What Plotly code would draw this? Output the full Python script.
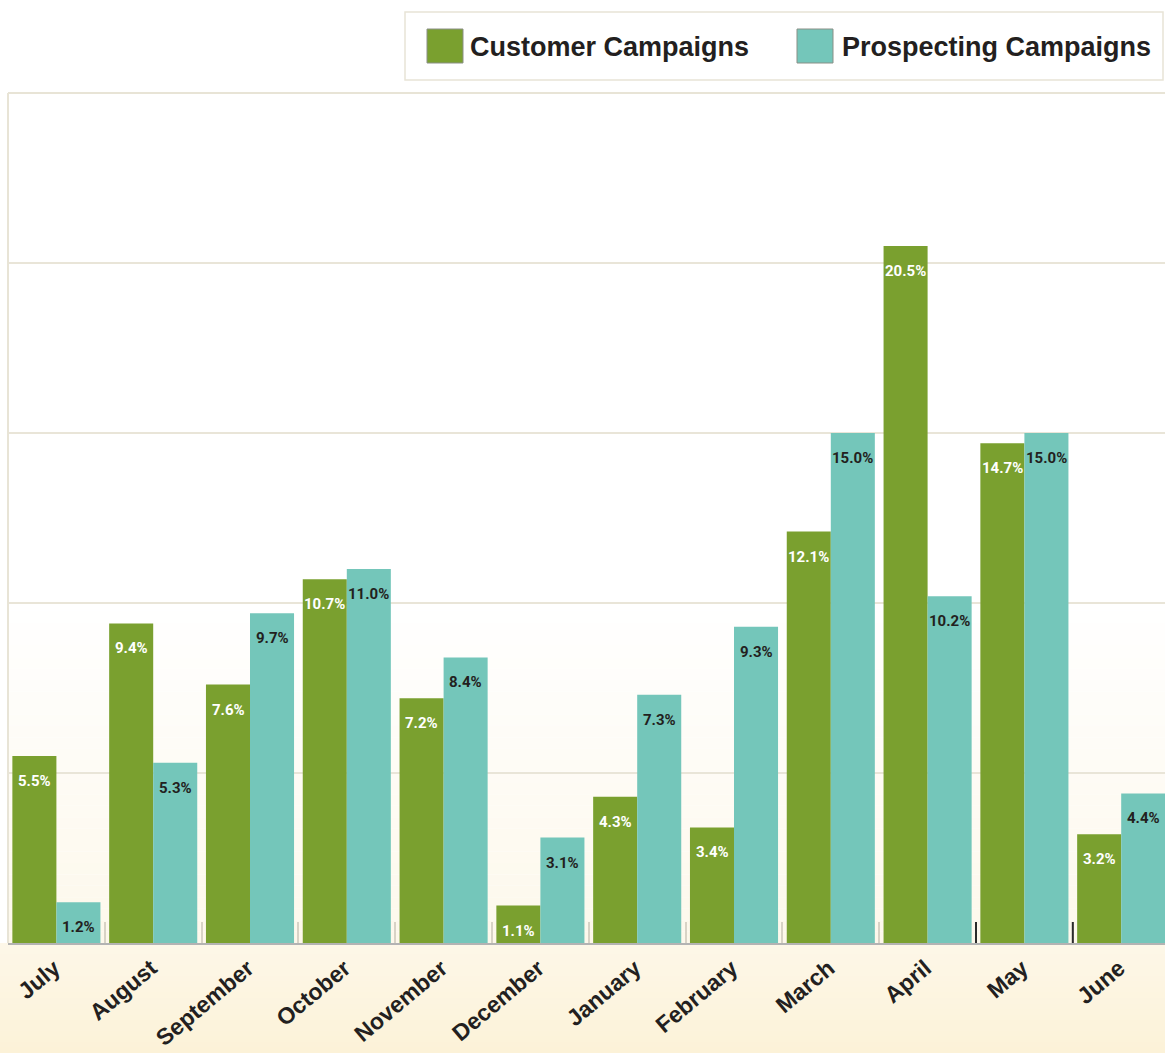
import plotly.graph_objects as go

# Monthly share of campaigns (%)
months = ["July", "August", "September", "October", "November", "December",
          "January", "February", "March", "April", "May", "June"]
customer = [5.5, 9.4, 7.6, 10.7, 7.2, 1.1, 4.3, 3.4, 12.1, 20.5, 14.7, 3.2]
prospecting = [1.2, 5.3, 9.7, 11.0, 8.4, 3.1, 7.3, 9.3, 15.0, 10.2, 15.0, 4.4]
series_names = ["Customer Campaigns", "Prospecting Campaigns"]

GREEN = "#7aa02f"
TEAL = "#74c6ba"
INK = "#231f20"
BEIGE = "#e8e4d6"

W, H = 1165, 1053
L, T, B = 8, 93, 110
PLOT_W = W - L
PLOT_H = H - T - B
CAT_PX = 96.8


def px_x(px):
    return (px - L) / PLOT_W


def px_y(py):
    return (H - B - py) / PLOT_H


fig = go.Figure()
fig.add_trace(go.Bar(x=months, y=customer, name=series_names[0],
                     marker=dict(color=GREEN, line=dict(width=0))))
fig.add_trace(go.Bar(x=months, y=prospecting, name=series_names[1],
                     marker=dict(color=TEAL, line=dict(width=0))))

shapes = []


def mix(c0, c1, t):
    return "rgb(%d,%d,%d)" % tuple(round(a + (b - a) * t) for a, b in zip(c0, c1))


# soft cream fade toward the bottom of the plot area
n = 30
top_px, bot_px = 600, H - B
for i in range(n):
    y0 = top_px + (bot_px - top_px) * i / n
    y1 = top_px + (bot_px - top_px) * (i + 1) / n
    shapes.append(dict(type="rect", xref="paper", yref="paper", layer="below",
                       x0=0, x1=1, y0=px_y(y1), y1=px_y(y0), line=dict(width=0),
                       fillcolor=mix((255, 255, 255), (253, 248, 235), (i + 0.5) / n)))
# cream band behind the month labels
n = 20
for i in range(n):
    y0 = (H - B) + B * i / n
    y1 = (H - B) + B * (i + 1) / n
    shapes.append(dict(type="rect", xref="paper", yref="paper", layer="below",
                       x0=px_x(0), x1=1, y0=px_y(y1 + 0.5), y1=px_y(y0), line=dict(width=0),
                       fillcolor=mix((253, 247, 232), (252, 242, 216), (i + 0.5) / n)))

# frame lines on top and left
shapes.append(dict(type="line", xref="paper", yref="paper", x0=0, x1=1, y0=1, y1=1,
                   line=dict(color=BEIGE, width=2)))
shapes.append(dict(type="line", xref="paper", yref="paper", x0=0, x1=0, y0=0, y1=1,
                   line=dict(color=BEIGE, width=2)))

# darker boundary ticks between April/May and May/June
for xb in (9.5, 10.5):
    shapes.append(dict(type="line", xref="x", yref="paper", x0=xb, x1=xb,
                       y0=0, y1=21 / PLOT_H, line=dict(color="#2b2b2b", width=2)))

# legend box with large colour swatches
shapes.append(dict(type="rect", xref="paper", yref="paper",
                   x0=px_x(405), x1=px_x(1163), y0=px_y(80), y1=px_y(12),
                   fillcolor="white", line=dict(color=BEIGE, width=1.5)))
annotations = []
legend_items = [(427, 471, GREEN, series_names[0]), (797, 843, TEAL, series_names[1])]
for sx, tx, col, label in legend_items:
    shapes.append(dict(type="rect", xref="paper", yref="paper",
                       x0=px_x(sx), x1=px_x(sx + 36), y0=px_y(63), y1=px_y(29),
                       fillcolor=col, line=dict(color="#8a8f86", width=1)))
    annotations.append(dict(xref="paper", yref="paper", x=px_x(tx - 3), y=px_y(47),
                            xanchor="left", yanchor="middle", showarrow=False, text=label,
                            font=dict(family="Liberation Sans, Arial, sans-serif",
                                      size=27, color=INK, weight="bold")))

# value labels inside the top of each bar
label_font = "Roboto, Liberation Sans Narrow, DejaVu Sans Condensed, sans-serif"
for vals, shift, col in ((customer, -22, "white"), (prospecting, 22, INK)):
    for m, v in zip(months, vals):
        annotations.append(dict(x=m, y=v, xref="x", yref="y", xshift=shift, yshift=-25,
                                text=f"{v:.1f}%", showarrow=False,
                                xanchor="center", yanchor="middle",
                                font=dict(family=label_font, size=15, color=col,
                                          weight="bold")))

fig.update_layout(
    width=W, height=H,
    margin=dict(l=L, r=0, t=T, b=B, pad=0, autoexpand=False),
    paper_bgcolor="white", plot_bgcolor="rgba(0,0,0,0)",
    barmode="group", bargap=0.09, bargroupgap=0,
    showlegend=False,
    shapes=shapes, annotations=annotations,
    xaxis=dict(type="category", range=[-0.5, -0.5 + PLOT_W / CAT_PX],
               automargin=False,
               showgrid=False, showline=True, linecolor="#b3b3b3", linewidth=1.5,
               ticks="inside", tickson="boundaries", ticklen=21, tickwidth=2,
               tickcolor="#d8d3c6", tickangle=-40,
               ticklabelshift=-2, ticklabelstandoff=1,
               tickfont=dict(family="Liberation Sans, Arial, sans-serif", size=23,
                             color=INK, weight="bold")),
    yaxis=dict(range=[0, 25], tickvals=[5, 10, 15, 20], showticklabels=False,
               automargin=False,
               showgrid=True, gridcolor="#e9e5d8", gridwidth=1.5,
               zeroline=False, showline=False, ticks=""),
)

fig.write_html("out.html")
